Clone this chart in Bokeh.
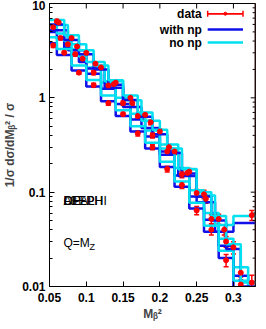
import math
from bokeh.plotting import figure
from bokeh.models import (FixedTicker, ColumnDataSource, Whisker, TeeHead,
                          Range1d, Span)
from bokeh.core.properties import value
from bokeh.embed import file_html
from bokeh.resources import INLINE

# ---------------- data ----------------
x_ticks = [0.05, 0.1, 0.15, 0.2, 0.25, 0.3]
x_tick_labels = ["0.05", "0.1", "0.15", "0.2", "0.25", "0.3"]
y_ticks = [0.01, 0.1, 1, 10]
y_tick_labels = ["0.01", "0.1", "1", "10"]

experiments = ["ALEPH", "DELPHI", "L3", "OPAL"]

e1_edges = [0.05, 0.06, 0.07, 0.08, 0.09, 0.10, 0.12, 0.14, 0.16, 0.18, 0.20,
            0.22, 0.24, 0.26, 0.28, 0.30, 0.32, 0.34]
e1_np = [5.0, 4.2, 3.4, 2.85, 2.4, 1.8, 1.25, 0.86, 0.59, 0.39, 0.25, 0.15,
         0.090, 0.051, 0.027, 0.013, 0.006]
e1_nonp = [5.8, 4.8, 4.0, 3.3, 2.75, 2.1, 1.45, 1.0, 0.68, 0.45, 0.29, 0.18,
           0.105, 0.060, 0.032, 0.016, 0.0072]
e1_data = [5.6, 4.3, 3.7, 2.9, 2.6, 1.85, 1.35, 0.88, 0.64, 0.40, 0.27, 0.155,
           0.098, 0.052, 0.030, 0.014, 0.007]
e1_relerr = [0.04, 0.04, 0.04, 0.04, 0.05, 0.05, 0.05, 0.05, 0.06, 0.06, 0.07,
             0.08, 0.09, 0.11, 0.13, 0.16, 0.2]

e2_edges = [0.05, 0.075, 0.10, 0.125, 0.15, 0.175, 0.20, 0.225, 0.25, 0.275,
            0.30, 0.35]
e2_np = [5.2, 3.2, 2.05, 1.28, 0.80, 0.48, 0.27, 0.148, 0.078, 0.038, 0.047]
e2_nonp = [5.9, 3.7, 2.4, 1.5, 0.94, 0.57, 0.32, 0.175, 0.092, 0.045, 0.056]
e2_data = [6.3, 3.5, 2.3, 1.4, 0.88, 0.55, 0.30, 0.16, 0.085, 0.040, 0.057]
e2_relerr = [0.04, 0.04, 0.04, 0.05, 0.05, 0.06, 0.07, 0.08, 0.1, 0.12, 0.12]

e3_edges = [0.05, 0.06, 0.08, 0.10, 0.12, 0.14, 0.16, 0.18, 0.20, 0.22, 0.24,
            0.26, 0.28, 0.30, 0.32]
e3_np = [3.8, 2.85, 1.95, 1.32, 0.92, 0.64, 0.44, 0.29, 0.185, 0.114, 0.067,
         0.038, 0.020, 0.0095]
e3_nonp = [4.4, 3.3, 2.2, 1.55, 1.06, 0.74, 0.50, 0.335, 0.21, 0.13, 0.077,
           0.044, 0.024, 0.0115]
e3_data = [3.6, 3.0, 1.85, 1.36, 0.88, 0.67, 0.42, 0.30, 0.176, 0.119, 0.064,
           0.040, 0.019, 0.0105]
e3_relerr = [0.05, 0.04, 0.04, 0.05, 0.05, 0.05, 0.06, 0.06, 0.07, 0.08, 0.1,
             0.12, 0.15, 0.2]

e4_edges = [0.05, 0.07, 0.09, 0.11, 0.13, 0.15, 0.17, 0.19, 0.21, 0.23, 0.25,
            0.27, 0.29, 0.31, 0.34]
e4_np = [6.0, 4.1, 2.9, 2.0, 1.38, 0.95, 0.63, 0.41, 0.26, 0.158, 0.09, 0.05,
         0.025, 0.010]
e4_nonp = [6.7, 4.6, 3.2, 2.2, 1.54, 1.06, 0.70, 0.46, 0.29, 0.176, 0.10,
           0.056, 0.028, 0.011]
e4_data = [6.5, 4.3, 3.0, 2.1, 1.45, 1.0, 0.66, 0.44, 0.27, 0.165, 0.095,
           0.052, 0.026, 0.011]
e4_relerr = [0.04, 0.04, 0.04, 0.05, 0.05, 0.05, 0.06, 0.06, 0.07, 0.08, 0.1,
             0.12, 0.15, 0.2]

legend_labels = ["data", "with np", "no np"]

# ---------------- styling ----------------
BLUE = "#1010e8"
CYAN = "#00e0f0"
RED = "#ff0000"
FONT = "Liberation Sans"
X0, X1 = 0.05, 0.33
Y0, Y1 = 0.01, 10
FRAME_W, FRAME_H = 216, 283   # approximate frame size, used for tick lengths

p = figure(width=258, height=324, x_range=Range1d(X0, X1),
           y_range=Range1d(Y0, Y1), y_axis_type="log",
           output_backend="svg", toolbar_location=None,
           min_border_left=39, min_border_right=3, min_border_top=3,
           min_border_bottom=38)
p.xgrid.visible = False
p.ygrid.visible = False
p.outline_line_color = "black"
p.outline_line_width = 1
p.background_fill_color = "white"
p.border_fill_color = "white"

y_minor = []
for k in (-2, -1, 0):
    for m in range(2, 10):
        y_minor.append(m * 10 ** k)

xa = p.xaxis[0]
xa.ticker = FixedTicker(ticks=x_ticks)
xa.major_label_overrides = {t: l for t, l in zip(x_ticks, x_tick_labels)}
ya = p.yaxis[0]
ya.ticker = FixedTicker(ticks=y_ticks, minor_ticks=y_minor)
ya.major_label_overrides = {t: l for t, l in zip(y_ticks, y_tick_labels)}

for ax in (xa, ya):
    ax.major_tick_in = 5
    ax.major_tick_out = 0
    ax.minor_tick_in = 3
    ax.minor_tick_out = 0
    ax.axis_line_color = "black"
    ax.major_label_text_font = FONT
    ax.major_label_text_font_size = "12px"
    ax.major_label_text_font_style = "bold"
    ax.major_label_text_color = "black"
    ax.axis_label_text_font = FONT
    ax.axis_label_text_font_size = "12px"
    ax.axis_label_text_font_style = "bold"
xa.major_label_standoff = 6
ya.major_label_standoff = 4
xa.axis_label = "Mᵦ²"
xa.axis_label_standoff = 2
ya.axis_label = "1/σ dσ/dMᵦ² / σ"
ya.axis_label_standoff = 2

# mirrored inward ticks on top and right (gnuplot border style)
dx_per_px = (X1 - X0) / FRAME_W
dlog_per_px = math.log10(Y1 / Y0) / FRAME_H
p.segment(x0=x_ticks, y0=[Y1] * len(x_ticks), x1=x_ticks,
          y1=[Y1 * 10 ** (-5 * dlog_per_px)] * len(x_ticks),
          line_color="black", line_width=1)
p.segment(x0=[X1 - 5 * dx_per_px] * len(y_ticks), y0=y_ticks,
          x1=[X1] * len(y_ticks), y1=y_ticks, line_color="black", line_width=1)
p.segment(x0=[X1 - 3 * dx_per_px] * len(y_minor), y0=y_minor,
          x1=[X1] * len(y_minor), y1=y_minor, line_color="black", line_width=1)
p.add_layout(Span(location=X1, dimension="height", line_color="#3a1a1a",
                  line_width=2))

# ---------------- histograms ----------------
sets = [
    (e1_edges, e1_np, e1_nonp, e1_data, e1_relerr),
    (e2_edges, e2_np, e2_nonp, e2_data, e2_relerr),
    (e3_edges, e3_np, e3_nonp, e3_data, e3_relerr),
    (e4_edges, e4_np, e4_nonp, e4_data, e4_relerr),
]

for edges, np_vals, nonp_vals, data_vals, relerr in sets:
    p.step(x=edges, y=np_vals + [np_vals[-1]], mode="after",
           line_color=BLUE, line_width=2.5)
    p.step(x=edges, y=nonp_vals + [nonp_vals[-1]], mode="after",
           line_color=CYAN, line_width=2.5)

for edges, np_vals, nonp_vals, data_vals, relerr in sets:
    centers = [(a + b) / 2 for a, b in zip(edges[:-1], edges[1:])]
    lower = [d * (1 - r) for d, r in zip(data_vals, relerr)]
    upper = [d * (1 + r) for d, r in zip(data_vals, relerr)]
    src = ColumnDataSource(dict(x=centers, y=data_vals, lo=lower, up=upper))
    w = Whisker(source=src, base="x", lower="lo", upper="up",
                line_color=RED, line_width=1.5,
                upper_head=TeeHead(size=5, line_color=RED, line_width=1.5),
                lower_head=TeeHead(size=5, line_color=RED, line_width=1.5))
    p.add_layout(w)
    p.scatter(x="x", y="y", source=src, marker="circle", size=5,
              fill_color=RED, line_color=RED)

# ---------------- texts ----------------
for name in experiments:
    p.text(x=[0.069], y=[0.08], text=[name], text_font=value(FONT),
           text_font_size="12px", text_baseline="middle", text_color="black")
p.text(x=[0.069], y=[0.029], text=["Q=M"], text_font=value(FONT),
       text_font_size="12px", text_baseline="middle", text_color="black")
p.text(x=[0.069], y=[0.029], text=["Z"], text_font=value(FONT),
       text_font_size="9px", text_baseline="middle", text_color="black",
       x_offset=26, y_offset=4)

# ---------------- legend (gnuplot style: text then sample) ----------------
leg_y = [7.8, 5.3, 3.85]
leg_text_x = 0.257
leg_x0, leg_x1 = 0.265, 0.313
p.text(x=[leg_text_x] * 3, y=leg_y, text=legend_labels, text_font=value(FONT),
       text_font_size="12px", text_font_style="bold", text_align="right",
       text_baseline="middle", text_color="black")
p.segment(x0=[leg_x0], y0=[leg_y[0]], x1=[leg_x1], y1=[leg_y[0]],
          line_color=RED, line_width=1.5)
lsrc = ColumnDataSource(dict(y=[leg_y[0]], lo=[leg_x0], up=[leg_x1]))
p.add_layout(Whisker(source=lsrc, base="y", lower="lo", upper="up",
                     dimension="width", line_color=RED, line_width=1.5,
                     upper_head=TeeHead(size=6, line_color=RED, line_width=1.5),
                     lower_head=TeeHead(size=6, line_color=RED, line_width=1.5)))
p.scatter(x=[(leg_x0 + leg_x1) / 2], y=[leg_y[0]], marker="circle", size=3,
          fill_color=RED, line_color=RED)
p.segment(x0=[leg_x0], y0=[leg_y[1]], x1=[leg_x1], y1=[leg_y[1]],
          line_color=BLUE, line_width=2.5)
p.segment(x0=[leg_x0], y0=[leg_y[2]], x1=[leg_x1], y1=[leg_y[2]],
          line_color=CYAN, line_width=2.5)

open("out.html", "w").write(file_html(p, INLINE))
